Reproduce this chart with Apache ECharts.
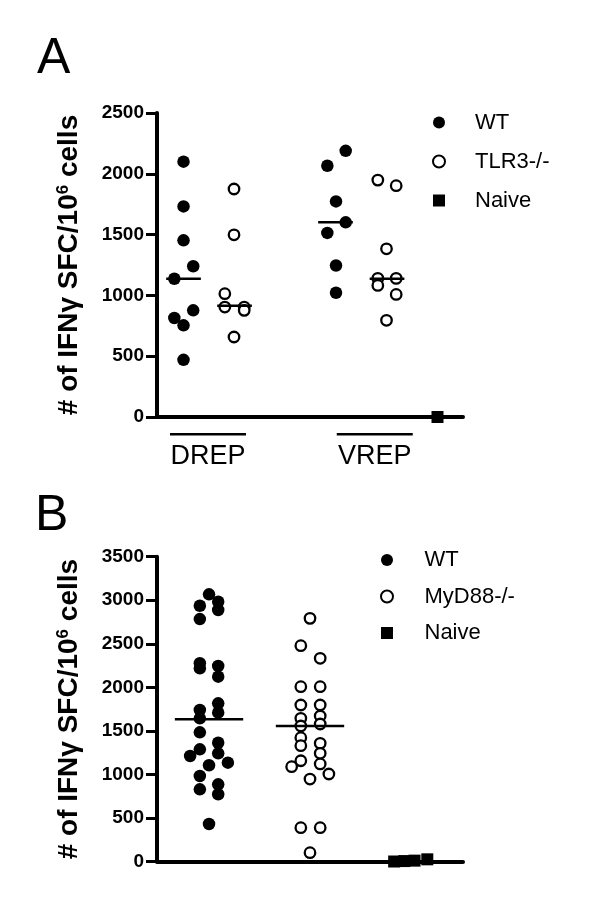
<!DOCTYPE html>
<html><head><meta charset="utf-8">
<script src="https://cdn.jsdelivr.net/npm/echarts@6/dist/echarts.min.js"></script>
<style>html,body{margin:0;padding:0;background:#fff}#c{width:600px;height:916px}</style>
</head><body><div id="c"></div>
<script>
// ---------- Panel A : [x position (group centre + jitter), SFC per 10^6 cells] ----------
const drepWT   = [[0.52,2100],[0.52,1732],[0.52,1453],[0.71,1240],[0.34,1137],[0.71,877],[0.34,814],[0.52,754],[0.52,470]];
const drepTLR3 = [[1.51,1875],[1.51,1498],[1.33,1014],[1.33,904],[1.71,904],[1.71,877],[1.51,658]];
const vrepWT   = [[3.70,2189],[3.34,2066],[3.51,1773],[3.70,1601],[3.34,1514],[3.51,1246],[3.51,1022]];
const vrepTLR3 = [[4.33,1948],[4.69,1902],[4.50,1383],[4.33,1140],[4.69,1140],[4.33,1082],[4.69,1008],[4.50,795]];
const naiveA   = [[5.50,0]];
const medianCentersA = [0.52, 1.52, 3.50, 4.51];
const medianValuesA  = [1137, 915, 1601, 1137];
const categoriesA    = ['DREP', 'VREP'];
const categoryPosA   = [1.0, 4.27];
const legendA        = ['WT', 'TLR3-/-', 'Naive'];
const yMaxA = 2500;

// ---------- Panel B ----------
const wtB = [[1.02,3068],[0.84,2937],[1.20,2983],[1.20,2888],[0.84,2784],[0.84,2276],[0.84,2218],[1.20,2245],[1.20,2122],
             [0.84,1740],[1.20,1816],[1.20,1709],[0.84,1644],[0.84,1483],[1.20,1364],[0.84,1288],[0.65,1211],[1.20,1242],
             [1.02,1105],[1.39,1135],[0.84,982],[1.20,886],[0.84,829],[1.20,772],[1.02,431]];
const myd88B = [[3.00,2792],[2.82,2478],[3.20,2333],[2.82,2007],[3.20,2007],[2.82,1797],[3.20,1797],[2.82,1644],[3.20,1671],
                [3.20,1579],[2.82,1556],[2.82,1422],[2.82,1330],[3.20,1357],[3.20,1242],[2.82,1157],[2.64,1089],[3.20,1120],
                [3.37,1005],[3.00,947],[2.82,388],[3.20,388],[3.00,101]];
const naiveB = [[4.65,0],[4.85,5],[5.05,10],[5.30,25]];
const medianCentersB = [1.02, 3.00];
const medianValuesB  = [1633, 1556];
const legendB        = ['WT', 'MyD88-/-', 'Naive'];
const yMaxB = 3500;

const FONT = 'Liberation Sans, Arial, Helvetica, sans-serif';
const SQUARE = 'path://M0 0H10V10H0Z';

function yAxis(grid, max) {
  return {
    gridIndex: grid, type: 'value', min: 0, max: max, interval: 500,
    axisLine: {show: true, lineStyle: {color: '#000', width: 4}},
    axisTick: {show: true, length: 11, lineStyle: {color: '#000', width: 3}},
    axisLabel: {fontSize: 19, fontWeight: 'bold', color: '#000', fontFamily: FONT, margin: 13,
      formatter: v => String(v)},
    splitLine: {show: false},
    name: '# of IFNγ SFC/10{sup|6} cells',
    nameLocation: 'middle', nameRotate: 90, nameGap: 73,
    nameTextStyle: {fontSize: 28, fontWeight: 'bold', color: '#000', fontFamily: FONT,
      rich: {sup: {fontSize: 17, fontWeight: 'bold', color: '#000', fontFamily: FONT, padding: [0, 0, 12, 0]}}}
  };
}
function xAxis(grid) {
  return {
    gridIndex: grid, type: 'value', min: 0, max: 6,
    axisLine: {show: true, lineStyle: {color: '#000', width: 4}},
    axisTick: {show: false}, axisLabel: {show: false}, splitLine: {show: false}
  };
}
function filled(name, grid, data) {
  return {type: 'scatter', name: name, xAxisIndex: grid, yAxisIndex: grid, data: data, clip: false,
    symbol: 'circle', symbolSize: 12.5, itemStyle: {color: '#000', opacity: 1}, z: 3};
}
function open(name, grid, data) {
  return {type: 'scatter', name: name, xAxisIndex: grid, yAxisIndex: grid, data: data, clip: false,
    symbol: 'circle', symbolSize: 10.5, itemStyle: {color: '#fff', borderColor: '#000', borderWidth: 2.3, opacity: 1}, z: 3};
}
function square(name, grid, data) {
  return {type: 'scatter', name: name, xAxisIndex: grid, yAxisIndex: grid, data: data, clip: false,
    symbol: SQUARE, symbolSize: 12, itemStyle: {color: '#000', opacity: 1}, z: 3};
}
function medians(grid, centers, values, half) {
  return {type: 'custom', xAxisIndex: grid, yAxisIndex: grid, z: 4, silent: true,
    data: values.map((v, i) => [centers[i], v]),
    renderItem: function (params, api) {
      const a = api.coord([api.value(0) - half, api.value(1)]);
      const b = api.coord([api.value(0) + half, api.value(1)]);
      return {type: 'line', shape: {x1: a[0], y1: a[1], x2: b[0], y2: b[1]},
        style: {stroke: '#000', lineWidth: 2.5}};
    }};
}
function legend(top, left, width, names, gap) {
  return {orient: 'vertical', top: top, left: left, itemWidth: width, itemHeight: 12, itemGap: gap,
    selectedMode: false,
    textStyle: {fontSize: 22, color: '#000', fontFamily: FONT, lineHeight: 22},
    data: names.map(n => n === 'Naive' ? {name: n, icon: SQUARE} : {name: n, icon: 'circle'})};
}

const chart = echarts.init(document.getElementById('c'), null, {renderer: 'canvas'});
chart.setOption({
  backgroundColor: '#fff',
  animation: false,
  title: [
    {text: 'A', left: 32, top: 29, textStyle: {fontSize: 50, fontWeight: 'normal', color: '#000', fontFamily: FONT}},
    {text: 'B', left: 30, top: 486, textStyle: {fontSize: 50, fontWeight: 'normal', color: '#000', fontFamily: FONT}}
  ],
  legend: [
    legend(106.5, 427, 62, legendA, 17),
    legend(544, 375, 65, legendB, 14.5)
  ],
  grid: [
    {left: 157, top: 113, width: 306, height: 304, containLabel: false},
    {left: 157, top: 556.7, width: 306, height: 304.8, containLabel: false}
  ],
  xAxis: [
    xAxis(0), xAxis(1),
    {gridIndex: 0, type: 'value', min: 0, max: 6, position: 'bottom',
      axisLine: {show: false}, axisTick: {show: false}, splitLine: {show: false},
      axisLabel: {show: true, customValues: categoryPosA, margin: 16, color: '#000',
        formatter: function (v) {
          const i = categoryPosA.indexOf(v);
          return '{bar|}\n{t|' + categoriesA[i] + '}';
        },
        rich: {
          bar: {width: 76, height: 2.5, backgroundColor: '#000'},
          t: {fontSize: 27, color: '#000', fontFamily: FONT, lineHeight: 30, padding: [12, 0, 0, 0]}
        }}}
  ],
  yAxis: [yAxis(0, yMaxA), yAxis(1, yMaxB)],
  series: [
    filled('WT', 0, drepWT), open('TLR3-/-', 0, drepTLR3),
    filled('WT', 0, vrepWT), open('TLR3-/-', 0, vrepTLR3),
    square('Naive', 0, naiveA),
    medians(0, medianCentersA, medianValuesA, 0.34),
    filled('WT', 1, wtB), open('MyD88-/-', 1, myd88B),
    square('Naive', 1, naiveB),
    medians(1, medianCentersB, medianValuesB, 0.67)
  ]
});
</script>
</body></html>
